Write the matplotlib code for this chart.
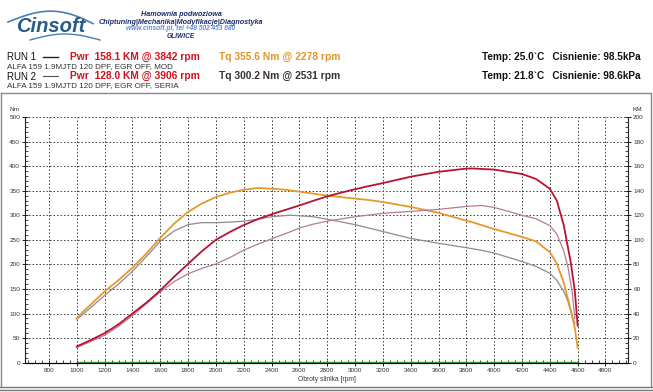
import numpy as np
import matplotlib
matplotlib.use("Agg")
import matplotlib.pyplot as plt
from matplotlib.lines import Line2D
from matplotlib.ticker import MultipleLocator

plt.rcParams['font.family'] = ['Liberation Sans', 'DejaVu Sans']

# ---------------- data ----------------
rpm_run1 = [1000, 1050, 1100, 1200, 1300, 1400, 1500, 1600, 1700, 1800, 1900, 2000, 2100, 2200,
            2300, 2400, 2500, 2600, 2700, 2800, 2900, 3000, 3100, 3200, 3400, 3600, 3800, 3842, 4000,
            4200, 4300, 4400, 4450, 4500, 4550, 4580, 4600]
tq_run1 = [90, 105, 118, 145, 168, 193, 222, 254, 283, 307, 324, 337, 346, 352,
           355.5, 354, 352, 348, 344, 340, 337, 334, 331, 327, 317, 305, 289, 286, 272,
           256, 247, 225, 202, 163, 108, 70, 30]
pwr_run1 = [13.2, 15.8, 18.4, 24.0, 31.2, 40.0, 48.8, 58.8, 70.0, 80.4, 90.8, 100.0, 106.4, 112.0,
            116.8, 120.8, 124.4, 128.0, 131.8, 135.4, 138.4, 141.2, 143.8, 146.2, 151.4, 155.4, 158.0, 158.1,
            157.2, 153.6, 149.6, 141.6, 132.0, 112.0, 82.0, 58.0, 30.0]

rpm_run2 = [1000, 1050, 1100, 1200, 1300, 1400, 1500, 1600, 1700, 1800, 1900, 2000, 2100, 2200,
            2300, 2400, 2531, 2600, 2700, 2800, 3000, 3200, 3400, 3600, 3800, 3906, 4000, 4200,
            4300, 4400, 4450, 4500, 4530, 4560, 4580]
tq_run2 = [88, 100, 112, 137, 160, 186, 216, 247, 268, 281, 285, 285, 286, 288,
           292, 297, 300.2, 299, 297, 292, 281, 267, 253, 243, 234, 229, 223, 206,
           196, 182, 168, 145, 125, 95, 80]
pwr_run2 = [12.4, 14.8, 17.2, 22.4, 29.6, 38.4, 48.0, 57.6, 66.0, 72.4, 76.8, 80.4, 85.6, 91.6,
            96.4, 100.8, 106.4, 109.6, 112.8, 115.2, 118.8, 121.6, 123.2, 124.8, 127.2, 128.0, 126.4, 120.0,
            117.2, 111.6, 104.8, 91.2, 78.0, 58.0, 36.0]

x_ticks = [800, 1000, 1200, 1400, 1600, 1800, 2000, 2200, 2400, 2600, 2800, 3000, 3200,
           3400, 3600, 3800, 4000, 4200, 4400, 4600, 4800]
nm_ticks = [0, 50, 100, 150, 200, 250, 300, 350, 400, 450, 500]
km_ticks = [0, 20, 40, 60, 80, 100, 120, 140, 160, 180, 200]

c_tq1 = '#E39A2A'
c_pw1 = '#BA1230'
c_tq2 = '#8F8A8E'
c_pw2 = '#B47C93'

W, H = 653, 392
fig = plt.figure(figsize=(W / 100, H / 100), dpi=100)
fig.patch.set_facecolor('white')


def P(x, y):
    return (x / W, 1 - y / H)


def ftext(x, y, s, **kw):
    fx, fy = P(x, y)
    fig.text(fx, fy, s, **kw)


def fline(xs, ys, **kw):
    fx = [x / W for x in xs]
    fy = [1 - y / H for y in ys]
    fig.add_artist(Line2D(fx, fy, transform=fig.transFigure, **kw))


# ---------------- header / logo ----------------
t = np.linspace(0, 1, 60)
fline(list(8 + 85 * t), list(22 - 14 * np.sin(np.pi * t * 0.9) + 6 * t), color='#4a7fb0', lw=1.2)
fline(list(30 + 70 * t), list(40 - 6 * np.sin(np.pi * t)), color='#4a7fb0', lw=1.0)
ftext(16, 26, 'Cinsoft', fontsize=14.5, fontweight='bold', color='#2a5a86', va='center', ha='left',
      fontstyle='italic')

ftext(181, 15, 'Hamownia podwoziowa', fontsize=5.2, fontweight='bold', fontstyle='italic',
      color='#1f2d6b', ha='center', va='center')
ftext(181, 22, 'Chiptuning|Mechanika|Modyfikacje|Diagnostyka', fontsize=5.2, fontweight='bold',
      fontstyle='italic', color='#1f2d6b', ha='center', va='center')
ftext(181, 29, 'www.cinsoft.pl, tel +48 502 453 680', fontsize=4.8, fontweight='bold',
      fontstyle='italic', color='#5a8fd0', ha='center', va='center')
ftext(181, 36, 'GLIWICE', fontsize=4.8, fontweight='bold', fontstyle='italic',
      color='#1f2d6b', ha='center', va='center')

# ---------------- run info ----------------
ftext(7, 57, 'RUN 1', fontsize=7.0, color='#111111', ha='left', va='center')
fline([43, 58], [57, 57], color='#222222', lw=1.0)
ftext(70, 57, 'Pwr  158.1 KM @ 3842 rpm', fontsize=7.4, fontweight='bold', color='#D0121E',
      ha='left', va='center')
ftext(219, 57, 'Tq 355.6 Nm @ 2278 rpm', fontsize=7.4, fontweight='bold', color='#E0962A',
      ha='left', va='center')
ftext(482, 57, 'Temp: 25.0`C   Cisnienie: 98.5kPa', fontsize=7.2, fontweight='bold',
      color='#111111', ha='left', va='center')
ftext(7, 67, 'ALFA 159 1.9MJTD 120 DPF, EGR OFF, MOD', fontsize=5.9, color='#333333',
      ha='left', va='center')

ftext(7, 77, 'RUN 2', fontsize=7.0, color='#111111', ha='left', va='center')
fline([43, 58], [76, 76], color='#555555', lw=0.8)
ftext(70, 76, 'Pwr  128.0 KM @ 3906 rpm', fontsize=7.4, fontweight='bold', color='#D0121E',
      ha='left', va='center')
ftext(219, 76, 'Tq 300.2 Nm @ 2531 rpm', fontsize=7.4, fontweight='bold', color='#3a3030',
      ha='left', va='center')
ftext(482, 76, 'Temp: 21.8`C   Cisnienie: 98.6kPa', fontsize=7.2, fontweight='bold',
      color='#111111', ha='left', va='center')
ftext(7, 86, 'ALFA 159 1.9MJTD 120 DPF, EGR OFF, SERIA', fontsize=5.9, color='#333333',
      ha='left', va='center')

# panel border
fline([1, 651, 651], [92.5, 92.5, 386], color='#888888', lw=1.0)
fline([1, 1], [92.5, 386], color='#888888', lw=1.0)
fline([0, 653], [387, 387], color='#777777', lw=1.0)
fline([0, 653], [390, 390], color='#777777', lw=1.0)

# ---------------- chart ----------------
left, right, top, bottom = 25, 628.3, 117, 362.7
ax = fig.add_axes([left / W, 1 - bottom / H, (right - left) / W, (bottom - top) / H])
ax.set_xlim(628, 4964)
ax.set_ylim(0, 500)
ax2 = ax.twinx()
ax2.set_ylim(0, 200)

for a in (ax, ax2):
    a.spines['top'].set_visible(False)
    a.set_facecolor('none')
ax.spines['right'].set_visible(False)
ax2.spines['left'].set_visible(False)
for s in ('left', 'bottom'):
    ax.spines[s].set_color('#222222')
    ax.spines[s].set_linewidth(0.8)
ax2.spines['right'].set_color('#222222')
ax2.spines['right'].set_linewidth(0.8)

ax.set_xticks(x_ticks)
ax.set_xticklabels([str(v) for v in x_ticks])
ax.set_yticks(nm_ticks)
ax.set_yticklabels([str(v) for v in nm_ticks])
ax2.set_yticks(km_ticks)
ax2.set_yticklabels([str(v) for v in km_ticks])
ax.xaxis.set_minor_locator(MultipleLocator(50))
ax.yaxis.set_minor_locator(MultipleLocator(10))
ax2.yaxis.set_minor_locator(MultipleLocator(4))

ax.tick_params(axis='x', which='major', direction='inout', length=4, width=0.7, labelsize=4.6,
               pad=2, colors='#222222', labelcolor='#333333')
ax.tick_params(axis='x', which='minor', direction='in', length=2, width=0.6, colors='#222222')
ax.tick_params(axis='y', which='major', direction='inout', length=4, width=0.7, labelsize=4.6,
               pad=1.5, colors='#222222', labelcolor='#333333')
ax.tick_params(axis='y', which='minor', direction='in', length=2, width=0.6, colors='#222222')
ax2.tick_params(axis='y', which='major', direction='inout', length=4, width=0.7, labelsize=4.6,
                pad=1.5, colors='#222222', labelcolor='#333333')
ax2.tick_params(axis='y', which='minor', direction='in', length=2, width=0.6, colors='#222222')

ax.grid(True, which='major', color='#444444', linestyle=(0, (1.6, 2.0)), linewidth=0.7)

ax.set_xlabel('Obroty silnika [rpm]', fontsize=4.8, color='#333333', labelpad=2)
ftext(14, 110, 'Nm', fontsize=4.6, color='#333333', ha='center', va='center')
ftext(637, 110, 'KM', fontsize=4.6, color='#333333', ha='center', va='center')

# zero line
ax.plot([1000, 4600], [0.8, 0.8], color='#3a9a3a', lw=1.0, zorder=3)

# curves
ax.plot(rpm_run2, tq_run2, color=c_tq2, lw=0.9, zorder=4)
ax2.plot(rpm_run2, pwr_run2, color=c_pw2, lw=0.9, zorder=4)
ax.plot(rpm_run1, tq_run1, color=c_tq1, lw=1.3, zorder=5)
ax2.plot(rpm_run1, pwr_run1, color=c_pw1, lw=1.3, zorder=5)

fig.savefig('out.png', dpi=100, facecolor='white')
